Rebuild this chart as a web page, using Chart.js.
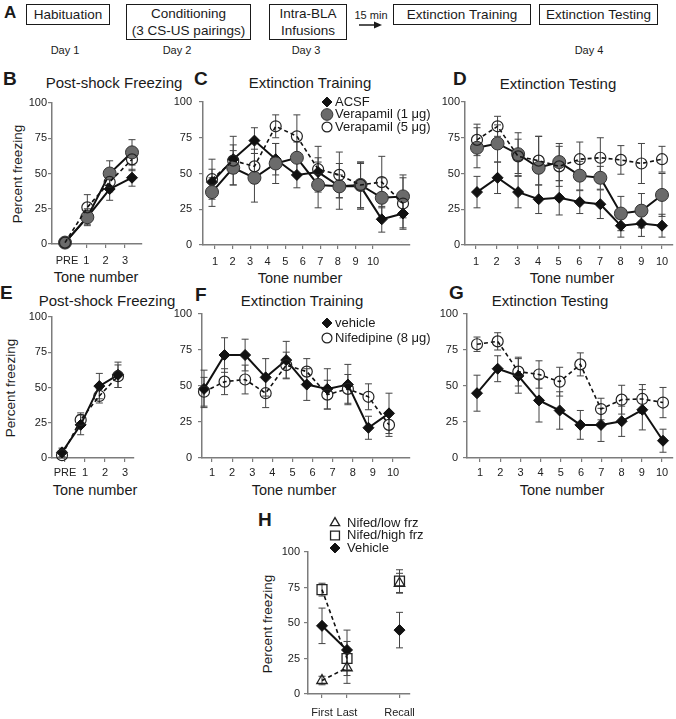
<!DOCTYPE html>
<html>
<head>
<meta charset="utf-8">
<script src="https://cdn.jsdelivr.net/npm/chart.js@4.4.1/dist/chart.umd.min.js"></script>
<style>
  html, body { margin: 0; padding: 0; background: #fff; }
  body { width: 676px; height: 719px; position: relative; overflow: hidden;
         font-family: "Liberation Sans", Arial, sans-serif; color: #1a1a1a; }
  canvas { position: absolute; }
  .t { position: absolute; white-space: nowrap; transform: translate(-50%, -50%); }
  .rot { transform: translate(-50%, -50%) rotate(-90deg); }
  .L { position: absolute; font-weight: bold; font-size: 19px; transform: translateY(-50%); }
  .box { position: absolute; border: 1.5px solid #1a1a1a; box-sizing: border-box; display: flex;
         align-items: center; justify-content: center; text-align: center; font-size: 13.5px; line-height: 17px; }
</style>
</head>
<body>
<!-- panel A: protocol timeline -->
<div class="L" style="left:4px;top:13px;font-size:17px">A</div>
<div class="box" style="left:26px;top:4px;width:84px;height:21px">Habituation</div>
<div class="box" style="left:126px;top:4px;width:125px;height:36px">Conditioning<br>(3 CS-US pairings)</div>
<div class="box" style="left:269px;top:4px;width:78px;height:36px">Intra-BLA<br>Infusions</div>
<div class="t" style="left:371px;top:15px;font-size:11px">15 min</div>
<svg style="position:absolute;left:358px;top:20px" width="26" height="10">
  <line x1="1" y1="5" x2="18" y2="5" stroke="#1a1a1a" stroke-width="1.5"/>
  <polygon points="16,1.5 24,5 16,8.5" fill="#1a1a1a"/>
</svg>
<div class="box" style="left:393px;top:4px;width:138px;height:21px">Extinction Training</div>
<div class="box" style="left:539px;top:4px;width:119px;height:21px">Extinction Testing</div>
<div class="t" style="left:65px;top:50px;font-size:11px">Day 1</div>
<div class="t" style="left:177px;top:50px;font-size:11px">Day 2</div>
<div class="t" style="left:306px;top:50px;font-size:11px">Day 3</div>
<div class="t" style="left:589px;top:50px;font-size:11px">Day 4</div>

<!-- panel letters and titles -->
<div class="L" style="left:3px;top:79px">B</div>
<div class="L" style="left:194px;top:79px">C</div>
<div class="L" style="left:453px;top:79px">D</div>
<div class="L" style="left:0px;top:293px">E</div>
<div class="L" style="left:195px;top:295px">F</div>
<div class="L" style="left:449px;top:293px">G</div>
<div class="L" style="left:258px;top:520px">H</div>

<div class="t" style="left:114px;top:82px;font-size:15px">Post-shock Freezing</div>
<div class="t" style="left:310px;top:82px;font-size:15px">Extinction Training</div>
<div class="t" style="left:558px;top:83px;font-size:15px">Extinction Testing</div>
<div class="t" style="left:107px;top:300px;font-size:15px">Post-shock Freezing</div>
<div class="t" style="left:302px;top:300px;font-size:15px">Extinction Training</div>
<div class="t" style="left:550px;top:300px;font-size:15px">Extinction Testing</div>

<div class="t" style="left:96px;top:277px;font-size:14.5px">Tone number</div>
<div class="t" style="left:300px;top:278px;font-size:14.5px">Tone number</div>
<div class="t" style="left:572px;top:278px;font-size:14.5px">Tone number</div>
<div class="t" style="left:95px;top:490px;font-size:14.5px">Tone number</div>
<div class="t" style="left:294px;top:490px;font-size:14.5px">Tone number</div>
<div class="t" style="left:562px;top:490px;font-size:14.5px">Tone number</div>

<div class="t rot" style="left:17px;top:174px;font-size:13.5px">Percent freezing</div>
<div class="t rot" style="left:10px;top:388px;font-size:13.5px">Percent freezing</div>
<div class="t rot" style="left:267px;top:624px;font-size:13.5px">Percent freezing</div>

<script>
// ---- data (percent freezing, mean and SEM) ----
const psTones = ['PRE', '1', '2', '3'];
const tones = ['1', '2', '3', '4', '5', '6', '7', '8', '9', '10'];
const yTicks = [0, 25, 50, 75, 100];

// B: post-shock, verapamil experiment
const bAcsf = [1, 19, 39, 47];
const bAcsfSem = [1, 5, 8, 6];
const bVer1 = [1, 19, 50, 65];
const bVer1Sem = [1, 6, 9, 9];
const bVer5 = [1, 26, 44, 60];
const bVer5Sem = [1, 9, 7, 8];

// C: extinction training
const cAcsf = [44, 60, 73, 60, 49, 51, 41, 41, 18, 22];
const cAcsfSem = [9, 10, 9, 11, 9, 10, 8, 16, 9, 10];
const cVer1 = [37, 54, 47, 57, 61, 42, 41, 42, 33, 34];
const cVer1Sem = [10, 12, 17, 14, 11, 16, 16, 16, 14, 15];
const cVer5 = [46, 59, 55, 83, 76, 53, 49, 42, 44, 29];
const cVer5Sem = [14, 17, 12, 8, 15, 16, 16, 16, 18, 18];

// D: extinction testing
const dAcsf = [37, 47, 37, 32, 33, 30, 28.5, 13.5, 15, 13.5];
const dAcsfSem = [11, 11, 11, 10, 12, 8, 10, 8, 9, 8];
const dVer1 = [68, 71, 63.5, 54, 58, 48.5, 47, 22, 24, 35];
const dVer1Sem = [14, 13, 15, 22, 13, 10, 8, 12, 12, 15];
const dVer5 = [73.5, 83, 62, 59, 55, 60, 61, 59.5, 57, 60];
const dVer5Sem = [11, 7, 12, 17, 14, 12, 14, 10, 14, 9];

// E: post-shock, nifedipine experiment
const eVeh = [4, 23.5, 51, 59];
const eVehSem = [3, 7, 9, 9];
const eNif = [2, 27, 44, 58];
const eNifSem = [2, 5, 5, 8];

// F: extinction training
const fVeh = [48, 71.5, 71.5, 56, 68, 51, 48, 51, 21, 31];
const fVehSem = [13, 12, 11, 13, 13, 11, 14, 14, 8, 14];
const fNif = [46, 53, 54.5, 45, 64.5, 60, 44, 48, 42.5, 23];
const fNifSem = [10, 9, 10, 10, 9, 9, 10, 10, 9, 8];

// G: extinction testing
const gVeh = [45, 62, 57, 40, 33, 23, 23, 25.5, 33.5, 12];
const gVehSem = [12.5, 9, 12, 15, 13, 10, 11.5, 10.5, 14, 8];
const gNif = [79, 81, 60, 58, 53, 65, 34, 40.5, 41, 38.5];
const gNifSem = [5, 6, 10, 9.5, 10, 8, 7.5, 10, 10, 10.5];

// H: nifedipine split by freezing level
const hPhases = ['First', 'Last', 'Recall'];
const hLow = [9.5, 18.5, 78];
const hLowSem = [3, 11, 7];
const hHigh = [73.5, 25, 79.5];
const hHighSem = [4.5, 12, 8];
const hVeh = [48, 31, 45];
const hVehSem = [12.5, 14, 12.5];

// ---- styles ----
const axisGray = '#7c7c7c';
const ink = '#111';
const diamond = {pointStyle: 'rectRot', pointRadius: 5.5, pointBackgroundColor: ink, pointBorderColor: ink,
  pointBorderWidth: 1, borderColor: ink, borderWidth: 2, order: 2};
const grayDot = {pointStyle: 'circle', pointRadius: 6.5, pointBackgroundColor: '#6b6b6b', pointBorderColor: '#333',
  pointBorderWidth: 1, borderColor: ink, borderWidth: 2, order: 1};
const openDot = {pointStyle: 'circle', pointRadius: 5.5, pointBackgroundColor: 'rgba(255,255,255,0)',
  pointBorderColor: '#222', pointBorderWidth: 1.2, borderColor: ink, borderWidth: 1.6, borderDash: [4, 3], order: 0};
const openTri = {pointStyle: 'triangle', pointRadius: 6, pointBackgroundColor: 'rgba(255,255,255,0)',
  pointBorderColor: '#222', pointBorderWidth: 1.3, borderColor: ink, borderWidth: 1.6, borderDash: [4, 3], order: 0};
const openSq = {pointStyle: 'rect', pointRadius: 7, pointBackgroundColor: 'rgba(255,255,255,0)',
  pointBorderColor: '#222', pointBorderWidth: 1.3, borderColor: ink, borderWidth: 1.6, borderDash: [4, 3], order: 1};

function series(label, values, sem, style, xs) {
  return Object.assign({
    label: label,
    data: values.map((v, i) => ({x: xs ? xs[i] : i, y: v})),
    errors: sem,
    clip: false
  }, style);
}

// whiskers drawn under the markers
const errorBars = {
  id: 'errorBars',
  beforeDatasetsDraw(chart) {
    const ctx = chart.ctx;
    const ys = chart.scales.y;
    chart.data.datasets.forEach((ds, i) => {
      if (!ds.errors) return;
      const xs = chart.scales[chart.getDatasetMeta(i).xAxisID];
      ctx.save();
      ctx.strokeStyle = '#444';
      ctx.lineWidth = 1;
      ds.data.forEach((p, j) => {
        const e = ds.errors[j];
        const x = xs.getPixelForValue(p.x);
        const lo = ys.getPixelForValue(p.y - e), hi = ys.getPixelForValue(p.y + e);
        ctx.beginPath();
        ctx.moveTo(x, lo); ctx.lineTo(x, hi);
        ctx.moveTo(x - 3.5, lo); ctx.lineTo(x + 3.5, lo);
        ctx.moveTo(x - 3.5, hi); ctx.lineTo(x + 3.5, hi);
        ctx.stroke();
      });
      ctx.restore();
    });
  }
};

// legend with the same point styles, at a fixed spot
const markerLegend = {
  id: 'markerLegend',
  afterDraw(chart, args, opts) {
    if (opts.x === undefined) return;
    const ctx = chart.ctx;
    chart.data.datasets.forEach((ds, i) => {
      const x = opts.x, y = opts.y + i * opts.dy;
      ctx.save();
      ctx.fillStyle = ds.pointBackgroundColor;
      ctx.strokeStyle = ds.pointBorderColor;
      ctx.lineWidth = ds.pointBorderWidth;
      Chart.helpers.drawPoint(ctx, {pointStyle: ds.pointStyle, radius: ds.pointRadius * 0.9,
        borderWidth: ds.pointBorderWidth, rotation: 0}, x, y);
      ctx.fillStyle = '#1a1a1a';
      ctx.font = '13px "Liberation Sans", Arial, sans-serif';
      ctx.textBaseline = 'middle';
      ctx.fillText(ds.label, x + opts.gap, y);
      ctx.restore();
    });
  }
};

// value range so that index 0 lands on p0 and index n-1 on p1
function axisRange(l, r, p0, p1, n) {
  const k = (p1 - p0) / (n - 1);
  const min = -(p0 - l) / k;
  return {min: min, max: min + (r - l) / k};
}

const PAD_TOP = 45, PAD_RIGHT = 40, Y_W = 45, X_H = 26;

function makePanel(p) {
  const cv = document.createElement('canvas');
  const left = p.l - Y_W, top = p.t - PAD_TOP;
  cv.width = p.r - left + PAD_RIGHT;
  cv.height = p.b - top + X_H;
  cv.style.left = left + 'px';
  cv.style.top = top + 'px';
  document.body.appendChild(cv);

  const tickFont = {family: '"Liberation Sans", Arial, sans-serif', size: 11};
  const gridOpts = {display: true, drawOnChartArea: false, drawTicks: true, tickLength: 4, color: axisGray, lineWidth: 1.2};
  const borderOpts = {display: true, color: axisGray, width: 1.5};
  const labelAxis = {
    type: 'linear', position: 'bottom',
    min: p.tickRange.min, max: p.tickRange.max,
    afterFit: s => { s.height = X_H; },
    afterBuildTicks: s => { s.ticks = p.tickVals.map(v => ({value: v})); },
    ticks: {padding: p.xPad, color: '#222', font: tickFont, autoSkip: false, maxRotation: 0,
      callback: (v, i) => p.tickLabels[i]},
    grid: gridOpts, border: borderOpts
  };
  const scales = {
    y: {
      min: 0, max: 100,
      afterFit: s => { s.width = Y_W; },
      afterBuildTicks: s => { s.ticks = yTicks.map(v => ({value: v})); },
      ticks: {padding: p.yPad, color: '#222', font: tickFont},
      grid: gridOpts, border: borderOpts
    }
  };
  if (p.markRange) {
    scales.x = {type: 'linear', display: false, min: p.markRange.min, max: p.markRange.max};
    scales.xt = labelAxis;
  } else {
    scales.x = labelAxis;
  }
  const legendOpts = p.legend ? {x: p.legend.x - left, y: p.legend.y - top, dy: p.legend.dy, gap: p.legend.gap} : {};

  new Chart(cv.getContext('2d'), {
    type: 'line',
    data: {datasets: p.datasets},
    options: {
      responsive: false, animation: false, devicePixelRatio: 1,
      layout: {padding: {top: PAD_TOP, right: PAD_RIGHT, left: 0, bottom: 0}},
      elements: {line: {tension: 0}},
      plugins: {legend: {display: false}, tooltip: {enabled: false}, markerLegend: legendOpts},
      scales: scales
    },
    plugins: [errorBars, markerLegend]
  });
}

const idx4 = [0, 1, 2, 3];
const idx10 = [0, 1, 2, 3, 4, 5, 6, 7, 8, 9];

makePanel({l: 52, r: 142, t: 103, b: 244, yPad: 1, xPad: 6.4,
  markRange: axisRange(52, 142, 65, 132, 4), tickRange: axisRange(52, 142, 67, 125, 4),
  tickVals: idx4, tickLabels: psTones,
  datasets: [series('ACSF', bAcsf, bAcsfSem, diamond), series('Verapamil (1 μg)', bVer1, bVer1Sem, grayDot),
    series('Verapamil (5 μg)', bVer5, bVer5Sem, openDot)]});

makePanel({l: 203, r: 410, t: 102, b: 245, yPad: 7, xPad: 6.4,
  markRange: axisRange(203, 410, 212, 403, 10), tickRange: axisRange(203, 410, 215, 373, 10),
  tickVals: idx10, tickLabels: tones,
  legend: {x: 327, y: 102, dy: 12.5, gap: 8},
  datasets: [series('ACSF', cAcsf, cAcsfSem, diamond), series('Verapamil (1 μg)', cVer1, cVer1Sem, grayDot),
    series('Verapamil (5 μg)', cVer5, cVer5Sem, openDot)]});

makePanel({l: 465, r: 673, t: 102, b: 245, yPad: 1, xPad: 6.4,
  markRange: axisRange(465, 673, 477, 662, 10), tickRange: axisRange(465, 673, 476, 662, 10),
  tickVals: idx10, tickLabels: tones,
  datasets: [series('ACSF', dAcsf, dAcsfSem, diamond), series('Verapamil (1 μg)', dVer1, dVer1Sem, grayDot),
    series('Verapamil (5 μg)', dVer5, dVer5Sem, openDot)]});

makePanel({l: 52, r: 134, t: 317, b: 458, yPad: 1, xPad: 4.4,
  markRange: axisRange(52, 134, 62, 118, 4), tickRange: axisRange(52, 134, 65, 125, 4),
  tickVals: idx4, tickLabels: psTones,
  datasets: [series('vehicle', eVeh, eVehSem, diamond), series('Nifedipine (8 μg)', eNif, eNifSem, openDot)]});

makePanel({l: 202, r: 410, t: 314, b: 458, yPad: 6, xPad: 4.4,
  markRange: axisRange(202, 410, 204, 389, 10), tickRange: axisRange(202, 410, 212, 393, 10),
  tickVals: idx10, tickLabels: tones,
  legend: {x: 327, y: 323, dy: 15, gap: 8},
  datasets: [series('vehicle', fVeh, fVehSem, diamond), series('Nifedipine (8 μg)', fNif, fNifSem, openDot)]});

makePanel({l: 467, r: 673, t: 314, b: 458, yPad: 5, xPad: 4.4,
  markRange: axisRange(467, 673, 477, 663, 10), tickRange: axisRange(467, 673, 480, 662, 10),
  tickVals: idx10, tickLabels: tones,
  datasets: [series('vehicle', gVeh, gVehSem, diamond), series('Nifedipine (8 μg)', gNif, gNifSem, openDot)]});

// H: recall sits apart from first/last and is not joined to them
const hPos = [1, 2, 4.1];
const noRecallLink = {segment: {borderColor: c => c.p0DataIndex === 1 ? 'rgba(0,0,0,0)' : undefined}};
makePanel({l: 308, r: 410, t: 552, b: 694, yPad: 4, xPad: 8.4,
  tickRange: {min: 0.44, max: 4.52}, tickVals: hPos, tickLabels: hPhases,
  legend: {x: 335, y: 523, dy: 12.5, gap: 12},
  datasets: [
    Object.assign(series('Nifed/low frz', hLow, hLowSem, openTri, hPos), noRecallLink),
    Object.assign(series('Nifed/high frz', hHigh, hHighSem, openSq, hPos), noRecallLink),
    Object.assign(series('Vehicle', hVeh, hVehSem, diamond, hPos), noRecallLink)
  ]});
</script>
</body>
</html>
